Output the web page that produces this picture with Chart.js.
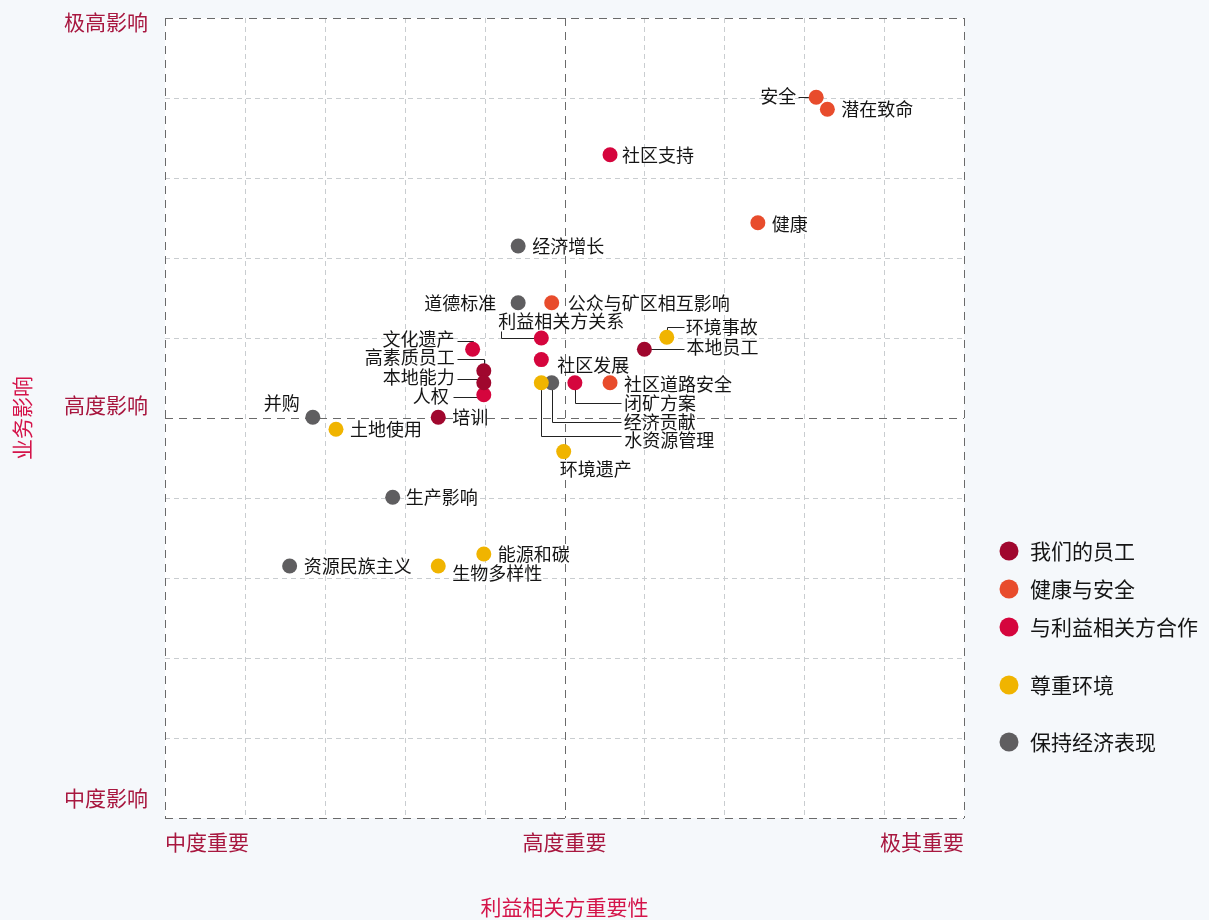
<!DOCTYPE html>
<html>
<head>
<meta charset="utf-8">
<script src="https://cdn.jsdelivr.net/npm/chart.js@4/dist/chart.umd.min.js"></script>
<style>
  body { margin: 0; background: #f5f8fb; }
  #wrap { width: 1209px; height: 920px; }
</style>
</head>
<body>
<div id="wrap"><canvas id="matrix" width="1209" height="920"></canvas></div>
<script>
// categories and colours
const categories = ["我们的员工", "健康与安全", "与利益相关方合作", "尊重环境", "保持经济表现"];
const categoryColors = ["#a0072e", "#e84c2c", "#d5053d", "#f0b400", "#5f5e60"];

// topics: name, x (stakeholder importance 0-10), y (business impact 0-10), category index
const topics = ["安全", "潜在致命", "社区支持", "健康", "经济增长", "道德标准", "公众与矿区相互影响",
  "利益相关方关系", "环境事故", "本地员工", "文化遗产", "社区发展", "高素质员工", "本地能力", "人权",
  "社区道路安全", "闭矿方案", "经济贡献", "水资源管理", "培训", "并购", "土地使用", "环境遗产",
  "生产影响", "能源和碳", "资源民族主义", "生物多样性"];
const importance = [8.15, 8.29, 5.57, 7.42, 4.42, 4.42, 4.84,
  4.71, 6.28, 6.0, 3.85, 4.71, 3.99, 3.99, 3.99,
  5.57, 5.13, 4.84, 4.71, 3.42, 1.85, 2.14, 4.99,
  2.85, 3.99, 1.56, 3.42];
const impact = [9.01, 8.86, 8.29, 7.44, 7.15, 6.44, 6.44,
  6.0, 6.01, 5.86, 5.86, 5.73, 5.59, 5.44, 5.29,
  5.44, 5.44, 5.44, 5.44, 5.01, 5.01, 4.86, 4.58,
  4.01, 3.30, 3.15, 3.15];
const topicCategory = [1, 1, 2, 1, 4, 4, 1,
  2, 3, 0, 2, 2, 0, 0, 2,
  1, 2, 4, 3, 0, 4, 3, 3,
  4, 3, 4, 3];

// axis tick labels
const xTickValues = [0, 5, 10];
const xTickLabels = ["中度重要", "高度重要", "极其重要"];
const yTickValues = [0, 5, 10];
const yTickLabels = ["中度影响", "高度影响", "极高影响"];
const xTitle = "利益相关方重要性";
const yTitle = "业务影响";

// label placement (pixel offsets from the point) and leader lines
const labelLayout = [
  { dx: -20, dy: -1, align: "right", leader: [[-18, 0], [0, 0]] },
  { dx: 14, dy: 0, align: "left" },
  { dx: 12, dy: 0, align: "left" },
  { dx: 14, dy: 1, align: "left" },
  { dx: 14, dy: 0, align: "left" },
  { dx: -22, dy: 0, align: "right" },
  { dx: 16, dy: 0, align: "left" },
  { dx: 20, dy: -17, align: "center", leader: [[-40, -7], [-40, 0], [0, 0]] },
  { dx: 19, dy: -10, align: "left", leader: [[0, 0], [0, -10], [17, -10]] },
  { dx: 42, dy: -2, align: "left", leader: [[0, 0], [40, 0]] },
  { dx: -18, dy: -10, align: "right", leader: [[-16, -8], [0, -8], [0, 0]] },
  { dx: 16, dy: 6, align: "left" },
  { dx: -29, dy: -14, align: "right", leader: [[-27, -12], [0, -12], [0, 0]] },
  { dx: -29, dy: -6, align: "right", leader: [[-27, -4], [0, -4]] },
  { dx: -35, dy: 1, align: "right", leader: [[-31, 2], [0, 2]] },
  { dx: 14, dy: 1, align: "left" },
  { dx: 49, dy: 20, align: "left", leader: [[0, 0], [0, 20], [46, 20]] },
  { dx: 72, dy: 39, align: "left", leader: [[0, 0], [0, 39], [69, 39]] },
  { dx: 83, dy: 57, align: "left", leader: [[0, 0], [0, 53], [80, 53]] },
  { dx: 14, dy: 0, align: "left" },
  { dx: -13, dy: -14, align: "right" },
  { dx: 14, dy: 0, align: "left" },
  { dx: -4, dy: 18, align: "left" },
  { dx: 13, dy: 0, align: "left" },
  { dx: 14, dy: 0, align: "left" },
  { dx: 14, dy: 0, align: "left" },
  { dx: 14, dy: 7, align: "left" }
];

const FONT = '"Noto Sans CJK SC", "Noto Sans", sans-serif';

const datasets = categories.map((name, ci) => {
  const pts = [];
  topics.forEach((t, i) => {
    if (topicCategory[i] === ci) pts.push({ x: importance[i], y: impact[i], idx: i });
  });
  return {
    label: name,
    data: pts,
    backgroundColor: categoryColors[ci],
    borderWidth: 0,
    pointRadius: 7.5,
    pointHoverRadius: 7.5
  };
});

const matrixPlugin = {
  id: "matrix",
  beforeDatasetsDraw(chart) {
    const ctx = chart.ctx;
    const area = chart.chartArea;
    const xs = chart.scales.x;
    const ys = chart.scales.y;
    ctx.save();
    ctx.fillStyle = "#ffffff";
    ctx.fillRect(area.left, area.top, area.right - area.left, area.bottom - area.top);

    // light grid
    ctx.strokeStyle = "#c9cdd0";
    ctx.lineWidth = 1;
    ctx.setLineDash([5, 4]);
    for (let v = 1; v < 10; v++) {
      if (v === 5) continue;
      const px = Math.round(xs.getPixelForValue(v)) + 0.5;
      ctx.beginPath(); ctx.moveTo(px, area.top); ctx.lineTo(px, area.bottom); ctx.stroke();
      const py = Math.round(ys.getPixelForValue(v)) + 0.5;
      ctx.beginPath(); ctx.moveTo(area.left, py); ctx.lineTo(area.right, py); ctx.stroke();
    }

    // centre lines and border
    ctx.strokeStyle = "#6a6a6a";
    ctx.setLineDash([8, 6]);
    [0, 5, 10].forEach(v => {
      const px = Math.round(xs.getPixelForValue(v)) + 0.5;
      ctx.beginPath(); ctx.moveTo(px, area.top); ctx.lineTo(px, area.bottom); ctx.stroke();
      const py = Math.round(ys.getPixelForValue(v)) + 0.5;
      ctx.beginPath(); ctx.moveTo(area.left, py); ctx.lineTo(area.right, py); ctx.stroke();
    });
    ctx.setLineDash([]);

    // leader lines
    ctx.strokeStyle = "#222222";
    ctx.lineWidth = 1;
    topics.forEach((t, i) => {
      const lay = labelLayout[i];
      if (!lay.leader) return;
      const px = xs.getPixelForValue(importance[i]);
      const py = ys.getPixelForValue(impact[i]);
      ctx.beginPath();
      lay.leader.forEach((p, k) => {
        const lx = Math.round(px + p[0]) + 0.5;
        const ly = Math.round(py + p[1]) + 0.5;
        if (k === 0) ctx.moveTo(lx, ly); else ctx.lineTo(lx, ly);
      });
      ctx.stroke();
    });
    ctx.restore();
  },
  afterDatasetsDraw(chart) {
    const ctx = chart.ctx;
    const xs = chart.scales.x;
    const ys = chart.scales.y;
    ctx.save();
    ctx.font = "18px " + FONT;
    ctx.fillStyle = "#151515";
    ctx.textBaseline = "middle";
    topics.forEach((t, i) => {
      const lay = labelLayout[i];
      ctx.textAlign = lay.align;
      ctx.fillText(t, xs.getPixelForValue(importance[i]) + lay.dx, ys.getPixelForValue(impact[i]) + lay.dy);
    });
    ctx.restore();
  },
  afterDraw(chart) {
    const ctx = chart.ctx;
    const area = chart.chartArea;
    const xs = chart.scales.x;
    const ys = chart.scales.y;
    ctx.save();
    ctx.font = "21px " + FONT;
    ctx.fillStyle = "#a8173f";
    ctx.textBaseline = "middle";

    const yOff = [-20, -13, 4];
    ctx.textAlign = "right";
    yTickValues.forEach((v, k) => {
      ctx.fillText(yTickLabels[k], 148, ys.getPixelForValue(v) + yOff[k]);
    });
    const xAlign = ["left", "center", "right"];
    xTickValues.forEach((v, k) => {
      ctx.textAlign = xAlign[k];
      ctx.fillText(xTickLabels[k], xs.getPixelForValue(v), area.bottom + 24);
    });

    // axis titles
    ctx.fillStyle = "#d4144a";
    ctx.textAlign = "center";
    ctx.fillText(xTitle, xs.getPixelForValue(5), 907);
    ctx.translate(22, ys.getPixelForValue(5));
    ctx.rotate(-Math.PI / 2);
    ctx.fillText(yTitle, 0, 0);
    ctx.restore();

    // legend
    ctx.save();
    const legendY = [551, 589, 627, 685, 742];
    ctx.font = "21px " + FONT;
    ctx.textBaseline = "middle";
    ctx.textAlign = "left";
    categories.forEach((name, k) => {
      ctx.fillStyle = categoryColors[k];
      ctx.beginPath();
      ctx.arc(1009, legendY[k], 9.5, 0, Math.PI * 2);
      ctx.fill();
      ctx.fillStyle = "#151515";
      ctx.fillText(name, 1030, legendY[k]);
    });
    ctx.restore();
  }
};

new Chart(document.getElementById("matrix"), {
  type: "scatter",
  data: { datasets: datasets },
  options: {
    responsive: false,
    animation: false,
    layout: { padding: { left: 165, right: 245, top: 18, bottom: 102 } },
    scales: {
      x: { min: 0, max: 10, display: false },
      y: { min: 0, max: 10, display: false }
    },
    plugins: {
      legend: { display: false },
      tooltip: { enabled: false }
    }
  },
  plugins: [matrixPlugin]
});
</script>
</body>
</html>
